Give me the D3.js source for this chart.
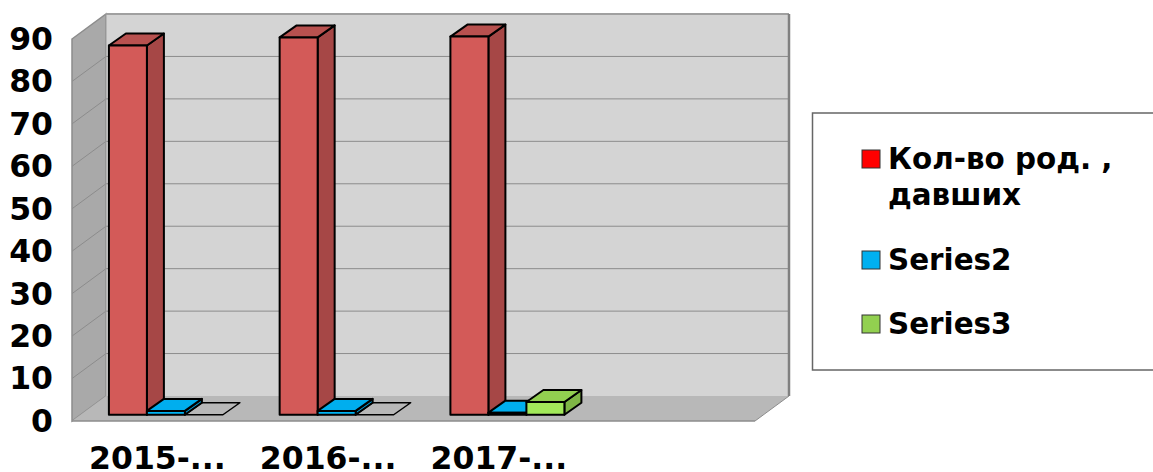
<!DOCTYPE html>
<html>
<head>
<meta charset="utf-8">
<script src="https://cdn.jsdelivr.net/npm/d3@7"></script>
<style>
  html, body { margin: 0; padding: 0; background: #fff; overflow: hidden; }
  text { font-family: "DejaVu Sans", sans-serif; font-weight: bold; fill: #000; }
</style>
</head>
<body>
<div id="chart"></div>
<script>
const categories = ['2015-...', '2016-...', '2017-...', '']
const seriesNames = [['Кол-во род. ,', 'давших'], ['Series2'], ['Series3']]
const series1 = [87, 88.9, 89.1, null]
const series2 = [0.9, 0.9, 0.5, null]
const series3 = [0, 0, 3, null]
const yTicks = [0, 10, 20, 30, 40, 50, 60, 70, 80, 90]

const fullWidth = 1153
const fullHeight = 472
const left = 72
const right = 755
const bottom = 421
const top3d = 39
const depthX = 34
const depthY = 25

const colours = [
    { legend: '#ff0000', front: '#d35a58', top: '#b8514f', side: '#a64746' },
    { legend: '#00b0f0', front: '#00b4f5', top: '#00aeee', side: '#0092c8' },
    { legend: '#92d050', front: '#a2e85a', top: '#92cf50', side: '#7fb646' }
]

const svg = d3.select('#chart')
    .append('svg')
    .attr('width', fullWidth)
    .attr('height', fullHeight)
    .style('display', 'block')

const x = d3.scaleBand().domain(d3.range(categories.length)).range([left, right])
const y = d3.scaleLinear().domain([0, 90]).range([bottom, top3d])
const line = d3.line()

// Walls and floor
const wallTop = y(90)
svg.append('path')
    .attr('d', line([[left, wallTop], [left + depthX, wallTop - depthY], [left + depthX, bottom - depthY], [left, bottom]]) + 'Z')
    .attr('fill', '#a9a9a9').attr('stroke', '#8c8c8c').attr('stroke-width', 1.5)
svg.append('rect')
    .attr('x', left + depthX).attr('y', wallTop - depthY)
    .attr('width', right - left).attr('height', bottom - wallTop)
    .attr('fill', '#d4d4d4')
svg.append('path')
    .attr('d', line([[left, bottom], [left + depthX, bottom - depthY], [right + depthX, bottom - depthY], [right, bottom]]) + 'Z')
    .attr('fill', '#b8b8b8')
svg.append('path')
    .attr('d', line([[left, bottom], [right, bottom]]))
    .attr('stroke', '#8c8c8c').attr('stroke-width', 1.5).attr('fill', 'none')
svg.append('path')
    .attr('d', line([[right, bottom], [right + depthX, bottom - depthY]]))
    .attr('stroke', '#8c8c8c').attr('stroke-width', 1).attr('fill', 'none')

// Grid lines on both walls
const grid = svg.append('g')
grid.selectAll('path')
    .data(yTicks.slice(1, -1))
    .enter()
    .append('path')
    .attr('d', d => line([[left, y(d)], [left + depthX, y(d) - depthY], [right + depthX, y(d) - depthY]]))
    .attr('fill', 'none').attr('stroke', '#8c8c8c').attr('stroke-width', 1)

svg.append('path')
    .attr('d', line([[left + depthX, wallTop - depthY], [right + depthX, wallTop - depthY]]))
    .attr('stroke', '#a0a0a0').attr('stroke-width', 2).attr('fill', 'none')
svg.append('path')
    .attr('d', line([[right + depthX, wallTop - depthY], [right + depthX, bottom - depthY]]))
    .attr('stroke', '#808080').attr('stroke-width', 2.5).attr('fill', 'none')
svg.append('path')
    .attr('d', line([[left + depthX, wallTop - depthY], [left + depthX, bottom - depthY]]))
    .attr('stroke', '#9a9a9a').attr('stroke-width', 1).attr('fill', 'none')

// Bars
const barWidth = 38
const barInset = 28.4
const barDepthX = depthX / 2
const barDepthY = 12
const barShiftX = depthX / 4
const barShiftY = depthY / 4

const allSeries = [series1, series2, series3]
const bars = []
categories.forEach((c, i) => {
    allSeries.forEach((s, k) => {
        if (s[i] != null) bars.push({ i, k, value: s[i] })
    })
})

const barGroup = svg.append('g')
    .attr('stroke', '#000')
    .attr('stroke-width', 2)
    .attr('stroke-linejoin', 'round')

for (const b of bars) {
    const x0 = x(b.i) + barShiftX + barInset + b.k * barWidth
    const x1 = x0 + barWidth
    const y0 = y(0) - barShiftY
    const y1 = y(b.value) - barShiftY
    const c = colours[b.k]
    if (b.value === 0) {
        // Zero values only leave an outline on the floor
        barGroup.append('path')
            .attr('d', line([[x0, y0], [x1, y0], [x1 + barDepthX, y0 - barDepthY], [x0 + barDepthX, y0 - barDepthY]]) + 'Z')
            .attr('fill', 'none')
            .attr('stroke-width', 1.5)
        continue
    }
    barGroup.append('path')
        .attr('d', line([[x1, y1], [x1 + barDepthX, y1 - barDepthY], [x1 + barDepthX, y0 - barDepthY], [x1, y0]]) + 'Z')
        .attr('fill', c.side)
    barGroup.append('path')
        .attr('d', line([[x0, y1], [x0 + barDepthX, y1 - barDepthY], [x1 + barDepthX, y1 - barDepthY], [x1, y1]]) + 'Z')
        .attr('fill', c.top)
    barGroup.append('rect')
        .attr('x', x0).attr('y', y1)
        .attr('width', barWidth).attr('height', y0 - y1)
        .attr('fill', c.front)
}

// Axis labels
const yAxis = svg.append('g')
    .attr('transform', `translate(${left}, 0)`)
    .call(d3.axisLeft(y).tickValues(yTicks).tickSize(0).tickPadding(19))
yAxis.select('.domain').remove()
yAxis.selectAll('text').style('font-size', '31.5px').attr('dy', '.33em')

const xAxis = svg.append('g')
    .attr('transform', `translate(0, ${bottom})`)
    .call(d3.axisBottom(x).tickFormat(i => categories[i]).tickSize(0).tickPadding(26))
xAxis.select('.domain').remove()
xAxis.selectAll('text').style('font-size', '31.5px')

// Legend
svg.append('rect')
    .attr('x', 812.5).attr('y', 113)
    .attr('width', 360).attr('height', 257)
    .attr('fill', '#fff').attr('stroke', '#666').attr('stroke-width', 1.5)

const legendY = [159, 260, 324]
const legend = svg.selectAll('.legend')
    .data(seriesNames)
    .enter()
    .append('g')
    .attr('class', 'legend')
    .attr('transform', (d, i) => `translate(862, ${legendY[i]})`)

legend.append('rect')
    .attr('x', 0).attr('y', -9)
    .attr('width', 18).attr('height', 18)
    .attr('fill', (d, i) => colours[i].legend)
    .attr('stroke', '#333').attr('stroke-width', 1)

legend.each(function (lines) {
    d3.select(this).selectAll('text')
        .data(lines)
        .enter()
        .append('text')
        .attr('x', 26)
        .attr('y', (d, j) => j * 36)
        .attr('dy', '.34em')
        .style('font-size', '29.4px')
        .text(d => d)
})
</script>
</body>
</html>
